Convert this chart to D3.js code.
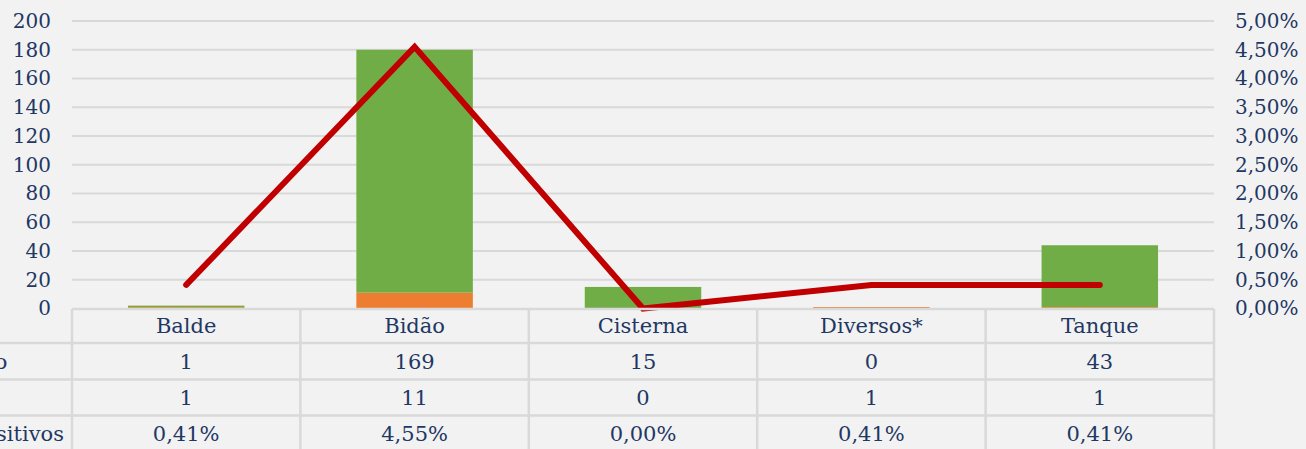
<!DOCTYPE html>
<html>
<head>
<meta charset="utf-8">
<script src="https://cdn.jsdelivr.net/npm/d3@7"></script>
<style>
  html, body { margin: 0; padding: 0; background: #f2f2f2; overflow: hidden; }
  svg { display: block; font-family: "DejaVu Serif", "Liberation Serif", serif; }
</style>
</head>
<body>
<svg id="chart"></svg>
<script>
// chart values
const categories = ["Balde", "Bidão", "Cisterna", "Diversos*", "Tanque"];
const negativos = [1, 169, 15, 0, 43];
const positivos = [1, 11, 0, 1, 1];
const pctPositivos = [0.0041, 0.0455, 0.0, 0.0041, 0.0041];
const rowLabels = ["Negativo", "Positivo", "% de Positivos"];
const leftTicks = [0, 20, 40, 60, 80, 100, 120, 140, 160, 180, 200];
const rightTicks = [0, 0.005, 0.01, 0.015, 0.02, 0.025, 0.03, 0.035, 0.04, 0.045, 0.05];

const width = 1306, height = 449;
const svg = d3.select("#chart").attr("width", width).attr("height", height);

const textColor = "#1f3864";
const gridColor = "#d9d9d9";
const fmtPct = v => (v * 100).toFixed(2).replace(".", ",") + "%";

const plot = { left: 72, right: 1214, top: 21, bottom: 308.5 };

const x = d3.scaleBand().domain(categories).range([plot.left, plot.right]);
const y = d3.scaleLinear().domain([0, 200]).range([plot.bottom, plot.top]);
const y2 = d3.scaleLinear().domain([0, 0.05]).range([plot.bottom, plot.top]);

// gridlines
svg.append("g").selectAll("line")
    .data(leftTicks.filter(d => d > 0))
    .join("line")
    .attr("x1", plot.left).attr("x2", plot.right)
    .attr("y1", d => y(d)).attr("y2", d => y(d))
    .attr("stroke", gridColor).attr("stroke-width", 2);

// left axis
const leftAxis = svg.append("g")
    .attr("transform", `translate(${plot.left},0)`)
    .call(d3.axisLeft(y).tickValues(leftTicks).tickSize(0).tickPadding(21));
leftAxis.select(".domain").remove();
leftAxis.selectAll("text").attr("fill", textColor).style("font-size", "20px")
    .style("font-family", "DejaVu Serif, serif");

// right axis
const rightAxis = svg.append("g")
    .attr("transform", `translate(${plot.right},0)`)
    .call(d3.axisRight(y2).tickValues(rightTicks).tickFormat(fmtPct).tickSize(0).tickPadding(21));
rightAxis.select(".domain").remove();
rightAxis.selectAll("text").attr("fill", textColor).style("font-size", "20px")
    .style("font-family", "DejaVu Serif, serif");

// stacked bars
const barW = x.bandwidth() * 0.51;
const stackData = categories.map((c, i) => ({ cat: c, neg: negativos[i], pos: positivos[i] }));
const stack = d3.stack().keys(["pos", "neg"])(stackData);
const colors = { pos: "#ed7d31", neg: "#70ad47" };

svg.append("g").selectAll("g")
    .data(stack)
    .join("g")
    .attr("fill", d => colors[d.key])
    .selectAll("rect")
    .data(d => d)
    .join("rect")
    .attr("x", d => x(d.data.cat) + (x.bandwidth() - barW) / 2)
    .attr("width", barW)
    .attr("y", d => y(d[1]))
    .attr("height", d => Math.max(0, y(d[0]) - y(d[1])));

// percentage line
const line = d3.line()
    .x((d, i) => x(categories[i]) + x.bandwidth() / 2)
    .y(d => y2(d));

svg.append("path")
    .datum(pctPositivos)
    .attr("d", line)
    .attr("fill", "none")
    .attr("stroke", "#c00000")
    .attr("stroke-width", 6)
    .attr("stroke-linecap", "round")
    .attr("stroke-linejoin", "miter");

// data table
const rowLines = [309, 343, 379.5, 415.5, 460];
const table = svg.append("g");
const tableColor = "#d9d9d9";

// top line of header
table.append("line")
    .attr("x1", plot.left).attr("x2", plot.right)
    .attr("y1", rowLines[0]).attr("y2", rowLines[0])
    .attr("stroke", tableColor).attr("stroke-width", 2.5);

// row separators (extend into label column)
table.selectAll("line.row")
    .data(rowLines.slice(1, 4))
    .join("line")
    .attr("class", "row")
    .attr("x1", 0).attr("x2", plot.right)
    .attr("y1", d => d).attr("y2", d => d)
    .attr("stroke", tableColor).attr("stroke-width", 2.5);

// column separators
const colEdges = categories.map(c => x(c)).concat([plot.right]);
table.selectAll("line.col")
    .data(colEdges)
    .join("line")
    .attr("class", "col")
    .attr("x1", d => d).attr("x2", d => d)
    .attr("y1", rowLines[0])
    .attr("y2", height)
    .attr("stroke", tableColor).attr("stroke-width", 2.5);

const rowValues = [
    categories,
    negativos.map(String),
    positivos.map(String),
    pctPositivos.map(fmtPct)
];

rowValues.forEach((vals, r) => {
    const cy = (rowLines[r] + rowLines[r + 1]) / 2 + (r === 3 ? -4 : 0);
    table.append("g").selectAll("text")
        .data(vals)
        .join("text")
        .attr("x", (d, i) => x(categories[i]) + x.bandwidth() / 2)
        .attr("y", cy)
        .attr("dy", "0.35em")
        .attr("text-anchor", "middle")
        .attr("fill", textColor)
        .style("font-size", "21px")
        .text(d => d);
});

// row labels (clipped at the left edge, as in the original)
table.selectAll("text.rowlabel")
    .data(rowLabels)
    .join("text")
    .attr("class", "rowlabel")
    .attr("x", -89)
    .attr("y", (d, i) => (rowLines[i + 1] + rowLines[i + 2]) / 2 + (i === 2 ? -4 : 0))
    .attr("dy", "0.35em")
    .attr("fill", textColor)
    .style("font-size", "21px")
    .text(d => d);
</script>
</body>
</html>
